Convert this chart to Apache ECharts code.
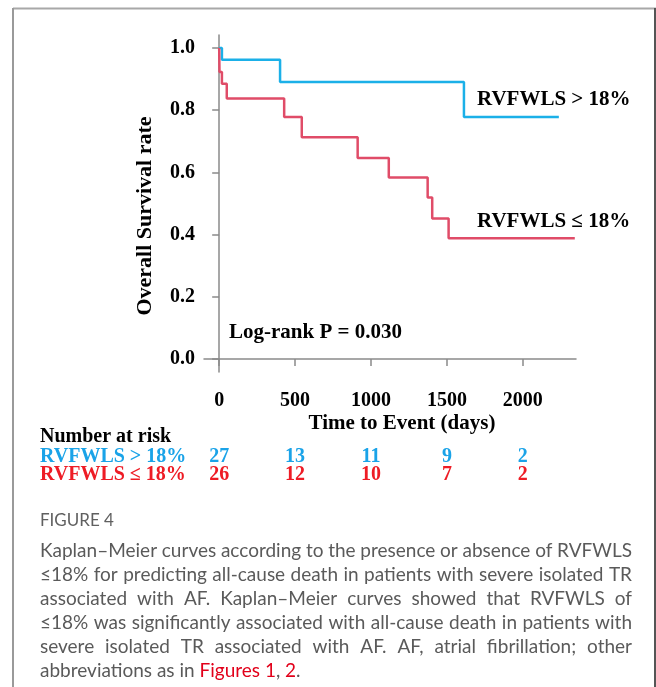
<!DOCTYPE html>
<html><head><meta charset="utf-8">
<script src="https://cdn.jsdelivr.net/npm/echarts@6/dist/echarts.min.js"></script>
<style>html,body{margin:0;padding:0;background:#fff;}#c{width:656px;height:687px;}</style>
</head><body><div id="c"></div>
<script>
// ---- data ----
const blueName = 'RVFWLS > 18%';
const redName = 'RVFWLS ≤ 18%';
const blueTimes = [0, 18, 401, 1612, 2237];
const blueSurv  = [1.0, 0.962, 0.891, 0.778, 0.778];
const redTimes  = [0, 2, 18, 50, 428, 544, 912, 1117, 1373, 1403, 1511, 2342];
const redSurv   = [1.0, 0.923, 0.885, 0.838, 0.778, 0.713, 0.646, 0.584, 0.519, 0.452, 0.388, 0.388];
const xTicks = [0, 500, 1000, 1500, 2000];
const yTicks = [0, 0.2, 0.4, 0.6, 0.8, 1.0];
const riskTimes = [0, 500, 1000, 1500, 2000];
const blueRisk = [27, 13, 11, 9, 2];
const redRisk  = [26, 12, 10, 7, 2];
const captionTitle = 'FIGURE 4';
const captionLines = [
  'Kaplan–Meier curves according to the presence or absence of RVFWLS',
  '≤18% for predicting all-cause death in patients with severe isolated TR',
  'associated with AF. Kaplan–Meier curves showed that RVFWLS of',
  '≤18% was significantly associated with all-cause death in patients with',
  'severe isolated TR associated with AF. AF, atrial fibrillation; other'
];

const serif = '"Liberation Serif","Times New Roman",serif';
const blueLine = '#1BB0E8', redLine = '#E04C68';
const blueTxt = '#1AA3E8', redTxt = '#EE1C25';
const axisGray = '#8a8a8a';

const chart = echarts.init(document.getElementById('c'));
const zip = (t, s) => t.map((v, i) => [v, s[i]]);
chart.setOption({
  animation: false,
  grid: { left: 204, top: 35, width: 372, height: 337 },
  xAxis: {
    type: 'value', min: -100, max: 2350,
    axisLine: { show: true, lineStyle: { color: axisGray, width: 1.5 } },
    axisTick: { show: true, length: 7, customValues: xTicks, lineStyle: { color: axisGray, width: 1.5 } },
    axisLabel: { customValues: xTicks, margin: 19, formatter: v => String(v), fontFamily: serif, fontWeight: 'bold', fontSize: 20, color: '#000' },
    splitLine: { show: false }
  },
  yAxis: {
    type: 'value', min: -0.042, max: 1.042,
    axisLine: { show: true, lineStyle: { color: axisGray, width: 1.5 } },
    axisTick: { show: true, length: 7, customValues: yTicks, lineStyle: { color: axisGray, width: 1.5 } },
    axisLabel: { customValues: yTicks, margin: 9, formatter: v => v.toFixed(1), fontFamily: serif, fontWeight: 'bold', fontSize: 20, color: '#000' },
    splitLine: { show: false }
  },
  series: [
    { name: blueName, type: 'line', step: 'end', symbol: 'none', data: zip(blueTimes, blueSurv),
      lineStyle: { color: blueLine, width: 2.5 } },
    { name: redName, type: 'line', step: 'end', symbol: 'none', data: zip(redTimes, redSurv),
      lineStyle: { color: redLine, width: 2.5 } }
  ]
});

// ---- graphics ----
const g = [];
const txt = (text, x, y, opt) => g.push(Object.assign({
  type: 'text', x, y, silent: true,
  style: Object.assign({ text, fill: '#000', font: 'bold 20px ' + serif, align: 'left', verticalAlign: 'middle' }, opt || {})
}));
// frame
g.push({ type: 'line', shape: { x1: 13, y1: 8.5, x2: 656, y2: 8.5 }, style: { stroke: '#a8a8a8', lineWidth: 2 } });
g.push({ type: 'line', shape: { x1: 13, y1: 8, x2: 13, y2: 687 }, style: { stroke: '#9a9a9a', lineWidth: 2 } });
g.push({ type: 'line', shape: { x1: 655, y1: 8, x2: 655, y2: 687 }, style: { stroke: '#555', lineWidth: 2 } });
// titles
txt('Time to Event (days)', 402, 424, { align: 'center', font: 'bold 21px ' + serif });
g.push({ type: 'text', x: 145, y: 216, rotation: Math.PI / 2, silent: true,
  style: { text: 'Overall Survival rate', fill: '#000', font: 'bold 22px ' + serif, align: 'center', verticalAlign: 'middle' } });
// annotations
txt(blueName, 477, 100, { font: 'bold 21px ' + serif });
txt(redName, 477, 222, { font: 'bold 21px ' + serif });
txt('Log-rank P = 0.030', 229, 333, { font: 'bold 21px ' + serif });
// risk table
txt('Number at risk', 40, 437, { font: 'bold 20px ' + serif });
txt(blueName, 40, 457, { font: 'bold 20px ' + serif, fill: blueTxt });
txt(redName, 40, 475, { font: 'bold 20px ' + serif, fill: redTxt });
riskTimes.forEach((t, i) => {
  const px = chart.convertToPixel({ xAxisIndex: 0 }, t);
  txt(String(blueRisk[i]), px, 457, { align: 'center', font: 'bold 20px ' + serif, fill: blueTxt });
  txt(String(redRisk[i]), px, 475, { align: 'center', font: 'bold 20px ' + serif, fill: redTxt });
});
// caption
const capFont = '19px Lato, "Open Sans", sans-serif';
const capGray = '#5a5a5a';
txt(captionTitle, 40, 521, { font: '17px Lato, "Open Sans", sans-serif', fill: '#606060' });
const ctx = document.createElement('canvas').getContext('2d');
ctx.font = capFont;
const left = 40, right = 632, lineY0 = 551, lh = 24;
captionLines.forEach((line, li) => {
  const words = line.split(' ');
  const widths = words.map(w => ctx.measureText(w).width);
  const total = widths.reduce((a, b) => a + b, 0);
  const gap = (right - left - total) / (words.length - 1);
  let x = left;
  words.forEach((w, wi) => {
    txt(w, x, lineY0 + li * lh, { font: capFont, fill: capGray });
    x += widths[wi] + gap;
  });
});
// last line with red links
const lastY = lineY0 + 5 * lh;
const parts = [['abbreviations as in ', capGray], ['Figures 1', '#E2001A'], [', ', capGray], ['2', '#E2001A'], ['.', capGray]];
let lx = left;
parts.forEach(([s, c]) => { txt(s, lx, lastY, { font: capFont, fill: c }); lx += ctx.measureText(s).width; });

chart.setOption({ graphic: g });
</script></body></html>
